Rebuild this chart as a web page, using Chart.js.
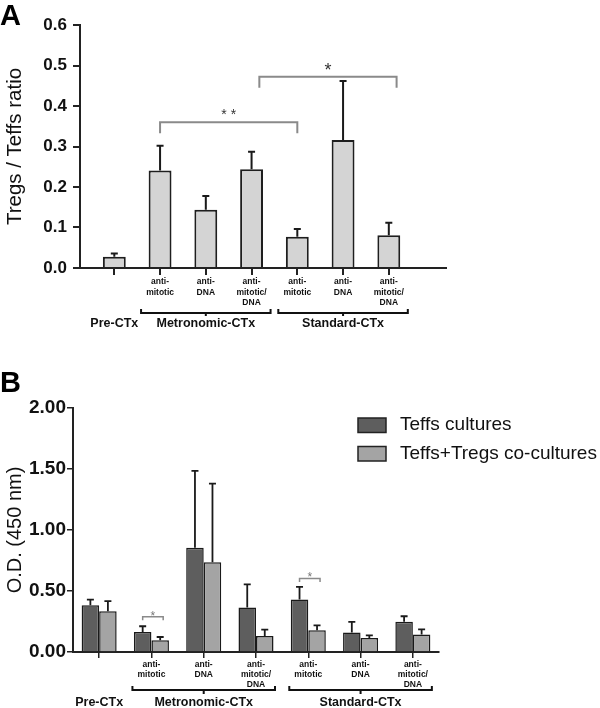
<!DOCTYPE html>
<html>
<head>
<meta charset="utf-8">
<script src="https://cdn.jsdelivr.net/npm/chart.js@4.4.1/dist/chart.umd.min.js"></script>
<style>
  body { margin: 0; background: #fff; width: 600px; height: 708px; overflow: hidden; position: relative; font-family: Arial, "Liberation Sans", sans-serif; }
  .panel { position: absolute; left: 0; font-weight: bold; font-size: 29px; line-height: 28px; color: #000; }
  #wrapA { position: absolute; left: 0; top: 0; width: 600px; height: 350px; }
  #wrapB { position: absolute; left: 0; top: 360px; width: 600px; height: 348px; }
</style>
</head>
<body>
<div id="wrapA"><canvas id="chartA" width="600" height="350"></canvas></div>
<div id="wrapB"><canvas id="chartB" width="600" height="348"></canvas></div>
<div class="panel" style="top:1px">A</div>
<div class="panel" style="top:368px">B</div>
<script>
// Data
const categories = ["Pre-CTx", "Metronomic anti-mitotic", "Metronomic anti-DNA", "Metronomic anti-mitotic/DNA",
  "Standard anti-mitotic", "Standard anti-DNA", "Standard anti-mitotic/DNA"];
const subLabels = [[], ["anti-", "mitotic"], ["anti-", "DNA"], ["anti-", "mitotic/", "DNA"],
  ["anti-", "mitotic"], ["anti-", "DNA"], ["anti-", "mitotic/", "DNA"]];
const groupNames = ["Pre-CTx", "Metronomic-CTx", "Standard-CTx"];
const groupMembers = [[0], [1, 2, 3], [4, 5, 6]];

// Panel A: Tregs / Teffs ratio
const ratioMean = [0.028, 0.241, 0.144, 0.244, 0.077, 0.316, 0.081];
const ratioSD = [0.008, 0.061, 0.034, 0.043, 0.019, 0.146, 0.031];
const ratioTicks = [0, 0.1, 0.2, 0.3, 0.4, 0.5, 0.6];

// Panel B: O.D. of cultures
const seriesNames = ["Teffs cultures", "Teffs+Tregs co-cultures"];
const teffsMean = [0.384, 0.164, 0.855, 0.365, 0.430, 0.159, 0.247];
const teffsSD = [0.046, 0.047, 0.630, 0.189, 0.104, 0.088, 0.046];
const coMean = [0.334, 0.096, 0.735, 0.131, 0.178, 0.115, 0.143];
const coSD = [0.083, 0.027, 0.645, 0.053, 0.041, 0.022, 0.043];
const odTicks = [0, 0.5, 1, 1.5, 2];

// significance marks (x in axis units for A, category index for B)
const sigA = [{ from: 2, to: 5, at: 0.36, text: "* *" }, { from: 4.17, to: 7.17, at: 0.472, text: "*" }];
const sigB = [{ cat: 1, at: 0.288 }, { cat: 4, at: 0.603 }];

Chart.defaults.font.family = "Arial, 'Liberation Sans', sans-serif";
Chart.defaults.color = "#111";
Chart.defaults.animation = false;

const xPosA = categories.map((_, i) => i + 1);

function drawErrors(ctx, meta, mean, sd, yScale, cap, width) {
  ctx.save();
  ctx.strokeStyle = "#1a1a1a";
  ctx.lineWidth = width;
  meta.data.forEach((bar, i) => {
    const top = yScale.getPixelForValue(mean[i] + sd[i]);
    ctx.beginPath();
    ctx.moveTo(bar.x, bar.y);
    ctx.lineTo(bar.x, top);
    ctx.moveTo(bar.x - cap / 2, top);
    ctx.lineTo(bar.x + cap / 2, top);
    ctx.stroke();
  });
  ctx.restore();
}

// sub labels, group brackets and group names under the x axis
function drawCategoryLabels(ctx, xs, bottom, o) {
  ctx.save();
  ctx.fillStyle = "#111";
  ctx.strokeStyle = "#111";
  ctx.textAlign = "center";
  ctx.textBaseline = "middle";
  ctx.font = "bold 8.5px Arial";
  subLabels.forEach((lines, i) => {
    lines.forEach((t, j) => ctx.fillText(t, xs[i], bottom + o.sub + j * o.lh));
  });
  ctx.lineWidth = 2;
  groupMembers.forEach((m, g) => {
    const xl = xs[m[0]] - 19, xr = xs[m[m.length - 1]] + 19;
    const mid = xs[m[Math.floor(m.length / 2)]];
    if (m.length > 1) {
      const yb = bottom + o.br;
      ctx.beginPath();
      ctx.moveTo(xl, yb - 4); ctx.lineTo(xl, yb); ctx.lineTo(xr, yb); ctx.lineTo(xr, yb - 4);
      ctx.moveTo(mid, yb); ctx.lineTo(mid, yb + o.tick);
      ctx.stroke();
    }
    ctx.font = "bold 12.5px Arial";
    ctx.fillText(groupNames[g], mid, bottom + o.name);
  });
  ctx.restore();
}

const extrasA = {
  id: "extrasA",
  afterDraw(chart) {
    const { ctx, scales: { x, y }, chartArea } = chart;
    drawErrors(ctx, chart.getDatasetMeta(0), ratioMean, ratioSD, y, 7, 2);
    drawCategoryLabels(ctx, xPosA.map(v => x.getPixelForValue(v)), chartArea.bottom,
      { sub: 14, lh: 10.3, br: 45, tick: 3, name: 56 });
    // significance brackets
    ctx.save();
    ctx.strokeStyle = "#8a8a8a";
    ctx.lineWidth = 2;
    ctx.textAlign = "center";
    ctx.textBaseline = "alphabetic";
    sigA.forEach(s => {
      const xl = x.getPixelForValue(s.from), xr = x.getPixelForValue(s.to), yl = y.getPixelForValue(s.at);
      ctx.beginPath();
      ctx.moveTo(xl, yl + 11); ctx.lineTo(xl, yl); ctx.lineTo(xr, yl); ctx.lineTo(xr, yl + 11);
      ctx.stroke();
      const fs = s.text === "*" ? 18 : 14;
      ctx.font = fs + "px Arial";
      ctx.fillStyle = "#333";
      ctx.fillText(s.text, (xl + xr) / 2, yl - 11 + 0.56 * fs);
    });
    ctx.restore();
  }
};

const extrasB = {
  id: "extrasB",
  afterDraw(chart) {
    const { ctx, scales: { x, y }, chartArea } = chart;
    const m0 = chart.getDatasetMeta(0), m1 = chart.getDatasetMeta(1);
    drawErrors(ctx, m0, teffsMean, teffsSD, y, 7, 1.8);
    drawErrors(ctx, m1, coMean, coSD, y, 7, 1.8);
    drawCategoryLabels(ctx, categories.map((_, i) => x.getPixelForValue(i)), chartArea.bottom,
      { sub: 13, lh: 10, br: 38, tick: 4, name: 51 });
    // small significance brackets
    ctx.save();
    ctx.strokeStyle = "#8a8a8a";
    ctx.fillStyle = "#777";
    ctx.lineWidth = 1.5;
    ctx.textAlign = "center";
    sigB.forEach(s => {
      const xl = m0.data[s.cat].x, xr = m1.data[s.cat].x + 3, yl = y.getPixelForValue(s.at);
      ctx.beginPath();
      ctx.moveTo(xl, yl + 3.5); ctx.lineTo(xl, yl); ctx.lineTo(xr, yl); ctx.lineTo(xr, yl + 3.5);
      ctx.stroke();
      ctx.font = "12px Arial";
      ctx.fillText("*", (xl + xr) / 2, yl - 4 + 0.56 * 12);
    });
    ctx.restore();
    // legend
    ctx.save();
    ctx.textAlign = "left";
    ctx.textBaseline = "middle";
    ctx.font = "19px Arial";
    chart.data.datasets.forEach((ds, i) => {
      const top = 58 + i * 28.5;
      ctx.fillStyle = ds.backgroundColor;
      ctx.fillRect(358, top, 28, 14.5);
      ctx.strokeStyle = "#222";
      ctx.lineWidth = 1.5;
      ctx.strokeRect(358, top, 28, 14.5);
      ctx.fillStyle = "#111";
      ctx.fillText(ds.label, 400, top + 7);
    });
    ctx.restore();
  }
};

const axisLine = { display: true, color: "#222", width: 2 };

new Chart(document.getElementById("chartA"), {
  type: "bar",
  data: {
    datasets: [{
      label: "Tregs / Teffs ratio",
      data: ratioMean.map((v, i) => ({ x: xPosA[i], y: v })),
      backgroundColor: "#d4d4d4",
      borderColor: "#1e1e1e",
      borderWidth: 2,
      categoryPercentage: 0.5,
      barPercentage: 1
    }]
  },
  options: {
    responsive: false,
    layout: { padding: { top: 25, right: 154, left: 0, bottom: 0 } },
    plugins: { legend: { display: false }, tooltip: { enabled: false } },
    scales: {
      x: {
        type: "linear", min: 0.25, max: 8.25, offset: false,
        afterBuildTicks: s => { s.ticks = xPosA.map(v => ({ value: v })); },
        afterFit: s => { s.height = 82; },
        ticks: { display: false },
        grid: { offset: false, drawOnChartArea: false, tickLength: 7, color: "#222", lineWidth: 2 },
        border: axisLine
      },
      y: {
        min: 0, max: 0.6,
        afterBuildTicks: s => { s.ticks = ratioTicks.map(v => ({ value: v })); },
        afterFit: s => { s.width = 80; },
        ticks: { callback: v => v.toFixed(1), font: { size: 17, weight: "bold" }, padding: 6, color: "#111" },
        grid: { drawOnChartArea: false, tickLength: 7, color: "#222", lineWidth: 2 },
        border: axisLine,
        title: { display: true, text: "Tregs / Teffs ratio", font: { size: 20.5 }, color: "#111", padding: { top: 3.5, bottom: 0 } }
      }
    }
  },
  plugins: [extrasA]
});

new Chart(document.getElementById("chartB"), {
  type: "bar",
  data: {
    labels: categories,
    datasets: [
      { label: seriesNames[0], data: teffsMean, backgroundColor: "#5e5e5e", borderColor: "#1a1a1a", borderWidth: 1.5,
        categoryPercentage: 0.67, barPercentage: 1 },
      { label: seriesNames[1], data: coMean, backgroundColor: "#a4a4a4", borderColor: "#1a1a1a", borderWidth: 1.5,
        categoryPercentage: 0.67, barPercentage: 1 }
    ]
  },
  options: {
    responsive: false,
    layout: { padding: { top: 48, right: 161, left: 0, bottom: 0 } },
    plugins: { legend: { display: false }, tooltip: { enabled: false } },
    scales: {
      x: {
        afterFit: s => { s.height = 56; },
        ticks: { display: false },
        grid: { offset: false, drawOnChartArea: false, tickLength: 6, color: "#222", lineWidth: 1.5 },
        border: axisLine
      },
      y: {
        min: 0, max: 2,
        afterBuildTicks: s => { s.ticks = odTicks.map(v => ({ value: v })); },
        afterFit: s => { s.width = 73; },
        ticks: { callback: v => v.toFixed(2), font: { size: 19, weight: "bold" }, padding: 1, color: "#111" },
        grid: { drawOnChartArea: false, tickLength: 6, color: "#222", lineWidth: 1.5 },
        border: axisLine,
        title: { display: true, text: "O.D. (450 nm)", font: { size: 20 }, color: "#111", padding: { top: 3.5, bottom: 0 } }
      }
    }
  },
  plugins: [extrasB]
});
</script>
</body>
</html>
